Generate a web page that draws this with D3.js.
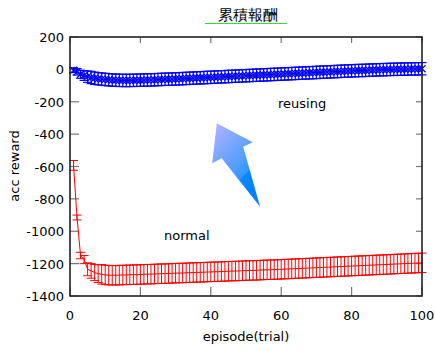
<!DOCTYPE html>
<html><head><meta charset="utf-8">
<script src="https://cdn.jsdelivr.net/npm/d3@7"></script>
<style>body{margin:0;background:#fff}svg{display:block}text{font-family:"DejaVu Sans",sans-serif}</style>
</head><body><svg id="c" width="435" height="351"></svg>
<script>
const title = "累積報酬";
const xLabel = "episode(trial)";
const yLabel = "acc reward";
const xTicks = [0,20,40,60,80,100];
const yTicks = [200,0,-200,-400,-600,-800,-1000,-1200,-1400];
const episodes = d3.range(1,101);
const normalMean = [-593,-915,-1150,-1175,-1235,-1245,-1255,-1262,-1266,-1270,
-1271,-1272,-1272,-1271,-1270,-1270,-1269,-1268,-1268,-1267,
-1266,-1265,-1265,-1264,-1263,-1262,-1262,-1261,-1260,-1259,
-1258,-1258,-1257,-1256,-1255,-1254,-1254,-1253,-1252,-1251,
-1250,-1250,-1249,-1248,-1247,-1246,-1246,-1245,-1244,-1243,
-1242,-1242,-1241,-1240,-1239,-1238,-1238,-1237,-1236,-1235,
-1234,-1233,-1232,-1231,-1230,-1229,-1228,-1227,-1226,-1225,
-1224,-1223,-1222,-1221,-1220,-1219,-1218,-1217,-1216,-1215,
-1214,-1213,-1212,-1211,-1210,-1209,-1208,-1207,-1206,-1205,
-1204,-1203,-1202,-1201,-1200,-1199,-1198,-1197,-1196,-1195];
const normalErr = [30,15,20,25,40,45,50,55,60,60,
60,60,60,60,60,60,60,60,60,60,60,60,60,60,60,60,60,60,60,60,
60,60,60,60,60,60,60,60,60,60,60,60,60,60,60,60,60,60,60,60,
60,60,60,60,60,60,60,60,60,60,60,60,60,60,60,60,60,60,60,60,
60,60,60,60,60,60,60,60,60,60,60,60,60,60,60,60,60,60,60,60,
60,60,60,60,60,60,60,60,60,60];
const reuseMean = [-5,-15,-30,-38,-45,-50,-55,-58,-60,-62,
-64,-66,-67,-68,-68,-69,-68,-68,-67,-67,
-66,-65,-65,-64,-63,-62,-61,-61,-60,-59,
-58,-57,-56,-55,-54,-53,-52,-51,-50,-49,
-48,-47,-46,-45,-44,-43,-42,-41,-40,-39,
-38,-37,-36,-35,-34,-33,-32,-31,-30,-29,
-28,-27,-26,-25,-24,-23,-22,-21,-20,-19,
-18,-17,-16,-15,-14,-13,-12,-11,-10,-9,
-8,-7,-7,-6,-5,-4,-3,-2,-2,-1,
0,0,1,1,2,2,3,3,4,4];
const reuseErr = [15,20,25,30,35,38,38,38,38,38,
38,38,38,38,38,38,38,38,38,38,38,38,38,38,38,38,38,38,38,38,
38,38,38,38,38,38,38,38,38,38,38,38,38,38,38,38,38,38,38,38,
38,38,38,38,38,38,38,38,38,38,38,38,38,38,38,38,38,38,38,38,
38,38,38,38,38,38,38,38,38,38,38,38,38,38,38,38,38,38,38,38,
38,38,38,38,38,38,38,38,38,38];
const seriesNames = ["reusing","normal"];
const labelPos = [[59.1,-239],[26.7,-1054]];
const arrowPts = [[41.7,-333],[51.9,-450],[49.2,-478],[54.0,-848],[43.1,-549],[40.4,-580]];

const svg = d3.select("#c");
svg.append("rect").attr("width",435).attr("height",351).attr("fill","#fff");
const L=70,R=422,T=37,B=296;
const x = d3.scaleLinear().domain([0,100]).range([L,R]);
const y = d3.scaleLinear().domain([-1400,200]).range([B,T]);

const defs = svg.append("defs");
const g = defs.append("linearGradient").attr("id","ag").attr("x1","0").attr("y1","0").attr("x2","0.6").attr("y2","1");
g.append("stop").attr("offset","0").attr("stop-color","#b4b4ff");
g.append("stop").attr("offset","0.55").attr("stop-color","#5aa0ff");
g.append("stop").attr("offset","0.75").attr("stop-color","#2f96ff");
g.append("stop").attr("offset","0.76").attr("stop-color","#0a88ff");
g.append("stop").attr("offset","1").attr("stop-color","#0080ff");

const tk = svg.append("g").attr("stroke","#777").attr("stroke-width",1.2);
xTicks.forEach(t=>{
  tk.append("line").attr("x1",x(t)).attr("x2",x(t)).attr("y1",B).attr("y2",B-9);
  tk.append("line").attr("x1",x(t)).attr("x2",x(t)).attr("y1",T).attr("y2",T+6);
});
yTicks.forEach(t=>{
  tk.append("line").attr("x1",L).attr("x2",L+9).attr("y1",y(t)).attr("y2",y(t));
  tk.append("line").attr("x1",R).attr("x2",R-6).attr("y1",y(t)).attr("y2",y(t));
});

svg.append("path").attr("d", d3.line().x(d=>x(d[0])).y(d=>y(d[1]))(arrowPts)+"Z")
  .attr("fill","url(#ag)");

function drawSeries(mean, err, color, marker, sw){
  const gg = svg.append("g").attr("stroke",color).attr("fill","none").attr("stroke-width",sw);
  const cw = 4.5;
  episodes.forEach((e,i)=>{
    const cx = x(e), y1 = y(mean[i]-err[i]), y2 = y(mean[i]+err[i]);
    gg.append("line").attr("x1",cx).attr("x2",cx).attr("y1",y1).attr("y2",y2);
    gg.append("line").attr("x1",cx-cw).attr("x2",cx+cw).attr("y1",y1).attr("y2",y1);
    gg.append("line").attr("x1",cx-cw).attr("x2",cx+cw).attr("y1",y2).attr("y2",y2);
    if(marker){
      const cy=y(mean[i]), s=3.5;
      gg.append("path").attr("d",`M${cx-s},${cy-s}L${cx+s},${cy+s}M${cx-s},${cy+s}L${cx+s},${cy-s}`);
    }
  });
  gg.append("path").attr("d", d3.line().x((d,i)=>x(episodes[i])).y(d=>y(d))(mean));
}
drawSeries(normalMean, normalErr, "#ff0000", false, 1);
drawSeries(reuseMean, reuseErr, "#0000ff", true, 1.2);

svg.append("rect").attr("x",L).attr("y",T).attr("width",R-L).attr("height",B-T)
  .attr("fill","none").attr("stroke","#222").attr("stroke-width",1.6);

const fs = 13;
xTicks.forEach(t=>{
  svg.append("text").attr("x",x(t)).attr("y",320).attr("text-anchor","middle").attr("font-size",fs).text(t);
});
yTicks.forEach(t=>{
  svg.append("text").attr("x",64).attr("y",y(t)+5).attr("text-anchor","end").attr("font-size",fs).text(t);
});
svg.append("text").attr("x",246).attr("y",341).attr("text-anchor","middle").attr("font-size",fs).text(xLabel);
svg.append("text").attr("transform","translate(19,166) rotate(-90)").attr("text-anchor","middle").attr("font-size",fs).text(yLabel);

seriesNames.forEach((n,i)=>{
  svg.append("text").attr("x",x(labelPos[i][0])).attr("y",y(labelPos[i][1])).attr("font-size",fs).text(n);
});

svg.append("text").attr("x",248).attr("y",20).attr("text-anchor","middle").attr("font-size",15)
  .attr("font-family","Noto Sans CJK JP").text(title);
svg.append("line").attr("x1",205).attr("x2",287).attr("y1",23.5).attr("y2",23.5).attr("stroke","#33dd33").attr("stroke-width",1.2);
</script></body></html>
